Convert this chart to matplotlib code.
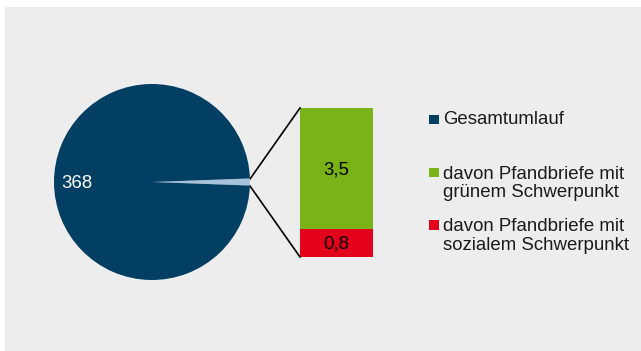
import matplotlib
matplotlib.use("Agg")
import matplotlib.pyplot as plt
from matplotlib.patches import Rectangle

plt.rcParams['font.family'] = ['Liberation Sans', 'DejaVu Sans']

# Data
pie_labels = ["Gesamtumlauf", "davon Pfandbriefe mit grünem/sozialem Schwerpunkt"]
total = 368
green_val = 3.5
social_val = 0.8
bar_labels = ["davon Pfandbriefe mit\ngrünem Schwerpunkt",
              "davon Pfandbriefe mit\nsozialem Schwerpunkt"]
bar_values = [green_val, social_val]
value_texts = ["368", "3,5", "0,8"]

DARK = "#023f63"
LIGHT = "#a6c3db"
GREEN = "#7ab317"
RED = "#e2001a"
BG = "#ededed"
FS = 13.4

W, H = 641, 351
fig = plt.figure(figsize=(W / 100, H / 100), dpi=100)
fig.patch.set_facecolor("white")
ax = fig.add_axes([0, 0, 1, 1])
ax.set_xlim(0, W)
ax.set_ylim(H, 0)
ax.axis("off")

# Gray panel
ax.add_patch(Rectangle((5, 7), W - 5, H - 7, facecolor=BG, edgecolor="none", zorder=0))

# Pie (in a separate axes in figure pixel coords)
cx, cy, r = 152, 182, 98
pax = fig.add_axes([(cx - r) / W, (H - cy - r) / H, 2 * r / W, 2 * r / H])
pax.axis("off")
small = green_val + social_val
vals = [small, total]
ang = small / (small + total) * 360
pax.pie(vals, colors=[LIGHT, DARK], startangle=-ang / 2, counterclock=True,
        radius=1.0, wedgeprops=dict(linewidth=0))
pax.set_xlim(-1, 1)
pax.set_ylim(-1, 1)
pax.text(-0.93, -0.02, value_texts[0], color="white", fontsize=FS,
         ha="left", va="center")

# Stacked bar (data-driven heights)
bx0, bw = 300, 73
btop, bbot = 108, 257
scale = (bbot - btop) / (green_val + social_val)
y_social_top = bbot - social_val * scale
ax.bar(bx0, social_val * scale, width=bw, bottom=y_social_top, align="edge",
       color=RED, linewidth=0, zorder=2)
ax.bar(bx0, green_val * scale, width=bw, bottom=btop, align="edge",
       color=GREEN, linewidth=0, zorder=2)
ax.text(bx0 + bw / 2, btop + green_val * scale / 2 + 1, value_texts[1], fontsize=FS,
        ha="center", va="center", color="black", zorder=3)
ax.text(bx0 + bw / 2, y_social_top + social_val * scale / 2 + 1, value_texts[2], fontsize=FS,
        ha="center", va="center", color="black", zorder=3)

# Connector lines
ax.plot([250, bx0], [179, btop], color="black", lw=1.2, zorder=3)
ax.plot([250, bx0], [186, bbot], color="black", lw=1.2, zorder=3)

# Legend
leg_items = [("Gesamtumlauf", DARK, 119),
             (bar_labels[0], GREEN, 182.5),
             (bar_labels[1], RED, 235)]
for txt, col, y in leg_items:
    nlines = txt.count("\n") + 1
    sq_y = y if nlines == 1 else y - 10.5
    ax.add_patch(Rectangle((429, sq_y - 4.5), 9.5, 9.5, facecolor=col,
                           edgecolor="none", zorder=3))
    ax.text(443, y + 1, txt, fontsize=FS, ha="left", va="center",
            linespacing=1.08, color="#1a1a1a", zorder=3)

fig.savefig("out.png", dpi=100, facecolor=fig.get_facecolor())
